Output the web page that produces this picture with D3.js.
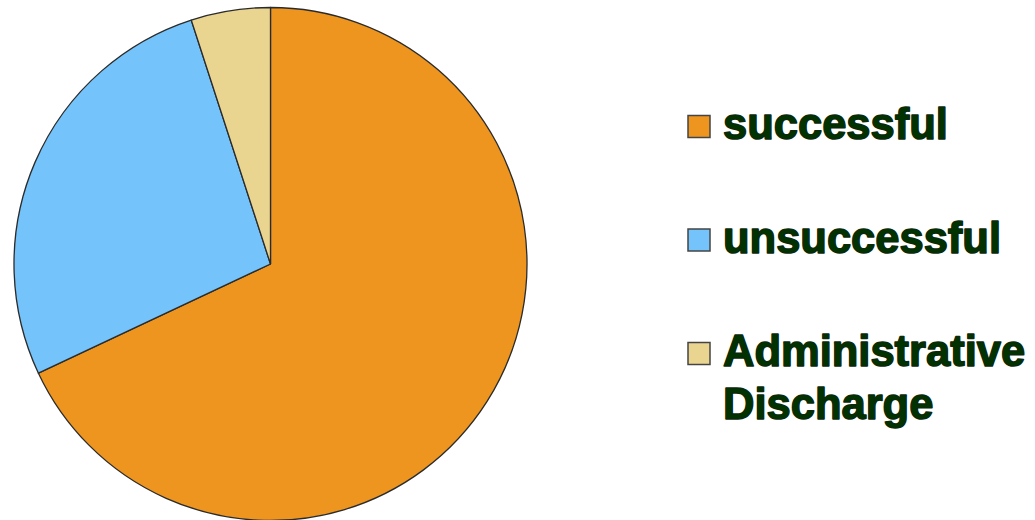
<!DOCTYPE html>
<html>
<head>
<meta charset="utf-8">
<script src="https://cdn.jsdelivr.net/npm/d3@7"></script>
<style>
  html, body { margin: 0; padding: 0; background: #fff; }
  svg { display: block; }
</style>
</head>
<body>
<svg id="chart"></svg>
<script>
const categories = ["successful", "unsuccessful", "Administrative Discharge"];
const values = [68, 27, 5];
const colors = ["#ee951f", "#75c3fb", "#e9d590"];

const width = 1035, height = 520;
const cx = 270.5, cy = 264, radius = 256.5;

const svg = d3.select('#chart')
    .attr('width', width)
    .attr('height', height);

const pie = d3.pie().sort(null).value(d => d.value);
const arc = d3.arc().innerRadius(0).outerRadius(radius);

const data = categories.map((c, i) => ({ name: c, value: values[i], color: colors[i] }));

svg.append('g')
    .attr('transform', `translate(${cx},${cy})`)
    .selectAll('path')
    .data(pie(data))
    .enter()
    .append('path')
    .attr('d', arc)
    .attr('fill', d => d.data.color)
    .attr('stroke', '#2b2b2b')
    .attr('stroke-width', 1.3)
    .attr('stroke-linejoin', 'round');

// legend
const legendY = d3.scalePoint()
    .domain(categories)
    .range([126.5, 353.5]);

const legend = svg.append('g')
    .selectAll('g')
    .data(data)
    .enter()
    .append('g')
    .attr('transform', d => `translate(688,${legendY(d.name)})`);

legend.append('rect')
    .attr('x', 0)
    .attr('y', -11)
    .attr('width', 22)
    .attr('height', 22)
    .attr('fill', d => d.color)
    .attr('stroke', '#444')
    .attr('stroke-width', 1.5);

const label = legend.append('text')
    .attr('x', 35)
    .attr('y', 12.5)
    .attr('fill', '#003300')
    .attr('stroke', '#0a2a0a')
    .attr('stroke-width', 1.5)
    .attr('stroke-linejoin', 'round')
    .style('font-family', '"Liberation Sans", Arial, sans-serif')
    .style('font-weight', 'bold')
    .style('font-size', '43.5px');

label.selectAll('tspan')
    .data(d => d.name === "Administrative Discharge" ? ["Administrative", "Discharge"] : [d.name])
    .enter()
    .append('tspan')
    .attr('x', 35)
    .attr('dy', (d, i) => i === 0 ? 0 : 53)
    .text(d => d);
</script>
</body>
</html>
